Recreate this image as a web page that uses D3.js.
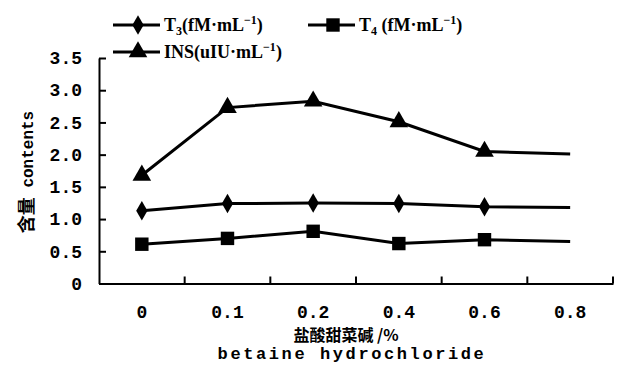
<!DOCTYPE html>
<html>
<head>
<meta charset="utf-8">
<script src="https://cdn.jsdelivr.net/npm/d3@7"></script>
<style>
  body { margin: 0; background: #fff; }
  svg { display: block; }
</style>
</head>
<body>
<div class="plot"></div>
<script>
// data
const doses = ['0', '0.1', '0.2', '0.4', '0.6', '0.8'];
const t3 = [1.13, 1.24, 1.25, 1.24, 1.19, 1.18];
const t4 = [0.61, 0.70, 0.81, 0.62, 0.68, 0.65];
const ins = [1.68, 2.73, 2.83, 2.51, 2.05, 2.01];
const yTicks = [0, 0.5, 1, 1.5, 2, 2.5, 3, 3.5];

const W = 620, H = 374;
const plotLeft = 99, plotRight = 613, plotTop = 58, plotBottom = 283.5;
const mono = '"Liberation Mono", "DejaVu Sans Mono", monospace';
const serif = '"Liberation Serif", "DejaVu Serif", serif';
const cjk = '"Noto Sans CJK SC", sans-serif';

const svg = d3.select('.plot')
    .append('svg')
    .attr('width', W)
    .attr('height', H);

const x = d3.scaleBand()
    .domain(doses)
    .range([plotLeft, plotRight])
    .padding(0);

const y = d3.scaleLinear()
    .domain([0, 3.5])
    .range([plotBottom, plotTop]);

const cx = d => x(d) + x.bandwidth() / 2;

const styleText = g => g.selectAll('text')
    .attr('font-family', mono)
    .attr('font-weight', 'bold')
    .attr('font-size', '18px')
    .attr('fill', '#000');

// y axis, ticks pointing inward
const yAxis = d3.axisLeft(y)
    .tickValues(yTicks)
    .tickSizeInner(-7)
    .tickSizeOuter(0)
    .tickPadding(17)
    .tickFormat(d => d === 0 ? '0' : d3.format('.1f')(d));

svg.append('g')
    .attr('transform', `translate(${plotLeft},0)`)
    .call(yAxis)
    .call(g => {
        g.select('.domain').attr('stroke', '#000').attr('stroke-width', 2);
        g.selectAll('.tick line').attr('stroke', '#000').attr('stroke-width', 2);
    })
    .call(styleText);

// x axis: labels at band centres, ticks at band edges
const xAxis = d3.axisBottom(x)
    .tickSize(0)
    .tickPadding(22);

svg.append('g')
    .attr('transform', `translate(0,${plotBottom})`)
    .call(xAxis)
    .call(g => g.select('.domain').attr('stroke', '#000').attr('stroke-width', 2))
    .call(styleText);

svg.append('g')
    .selectAll('line')
    .data(doses)
    .enter()
    .append('line')
    .attr('x1', d => x(d) + x.bandwidth())
    .attr('x2', d => x(d) + x.bandwidth())
    .attr('y1', plotBottom)
    .attr('y2', plotBottom - 7)
    .attr('stroke', '#000')
    .attr('stroke-width', 2);

// axis titles
svg.append('text')
    .attr('transform', 'translate(33,172) rotate(-90)')
    .attr('text-anchor', 'middle')
    .attr('font-weight', 'bold')
    .call(t => {
        t.append('tspan').text('含量').attr('font-family', cjk).attr('font-size', '18px');
        t.append('tspan').text(' contents').attr('font-family', mono).attr('font-size', '16px');
    });

svg.append('text')
    .attr('x', 346)
    .attr('y', 341)
    .attr('text-anchor', 'middle')
    .attr('font-family', cjk)
    .attr('font-weight', 'bold')
    .attr('font-size', '16px')
    .text('盐酸甜菜碱 /%');

svg.append('text')
    .attr('x', 352)
    .attr('y', 359)
    .attr('text-anchor', 'middle')
    .attr('font-family', mono)
    .attr('font-weight', 'bold')
    .attr('font-size', '17px')
    .attr('letter-spacing', '2.6px')
    .text('betaine hydrochloride');

// series
const series = [
    { name: 'T3', values: t3, shape: d3.symbolDiamond, size: 110 },
    { name: 'T4', values: t4, shape: d3.symbolSquare, size: 180 },
    { name: 'INS', values: ins, shape: d3.symbolTriangle, size: 150 }
];

const line = d3.line()
    .x((d, i) => cx(doses[i]))
    .y(d => y(d));

series.forEach(s => {
    svg.append('path')
        .attr('d', line(s.values))
        .attr('fill', 'none')
        .attr('stroke', '#000')
        .attr('stroke-width', 3);

    // the last dose has no marker in the original
    svg.append('g')
        .selectAll('path')
        .data(s.values.slice(0, doses.length - 1))
        .enter()
        .append('path')
        .attr('d', d3.symbol().type(s.shape).size(s.size))
        .attr('transform', (d, i) => `translate(${cx(doses[i])},${y(d)})`)
        .attr('fill', '#000');
});

// legend; parts are [text, 'sub' | 'sup' | undefined]
const legend = (lx, ly, s, parts) => {
    const g = svg.append('g').attr('transform', `translate(${lx},${ly})`);
    g.append('line')
        .attr('x1', 0).attr('x2', 47)
        .attr('stroke', '#000').attr('stroke-width', 3);
    g.append('path')
        .attr('d', d3.symbol().type(s.shape).size(s.size))
        .attr('transform', 'translate(25,0)')
        .attr('fill', '#000');
    const t = g.append('text')
        .attr('x', 51)
        .attr('y', 6)
        .attr('font-family', serif)
        .attr('font-weight', 'bold')
        .attr('font-size', '18px');
    let shift = 0;
    parts.forEach(p => {
        const target = p[1] === 'sub' ? 4 : p[1] === 'sup' ? -7 : 0;
        t.append('tspan')
            .text(p[0])
            .attr('font-size', p[1] ? '12px' : null)
            .attr('dy', target - shift);
        shift = target;
    });
};

legend(113, 25, series[0], [['T'], ['3', 'sub'], ['(fM·mL'], ['−1', 'sup'], [')']]);
legend(308, 25, series[1], [['T'], ['4', 'sub'], [' (fM·mL'], ['−1', 'sup'], [')']]);
legend(113, 52, series[2], [['INS(uIU·mL'], ['−1', 'sup'], [')']]);
</script>
</body>
</html>
